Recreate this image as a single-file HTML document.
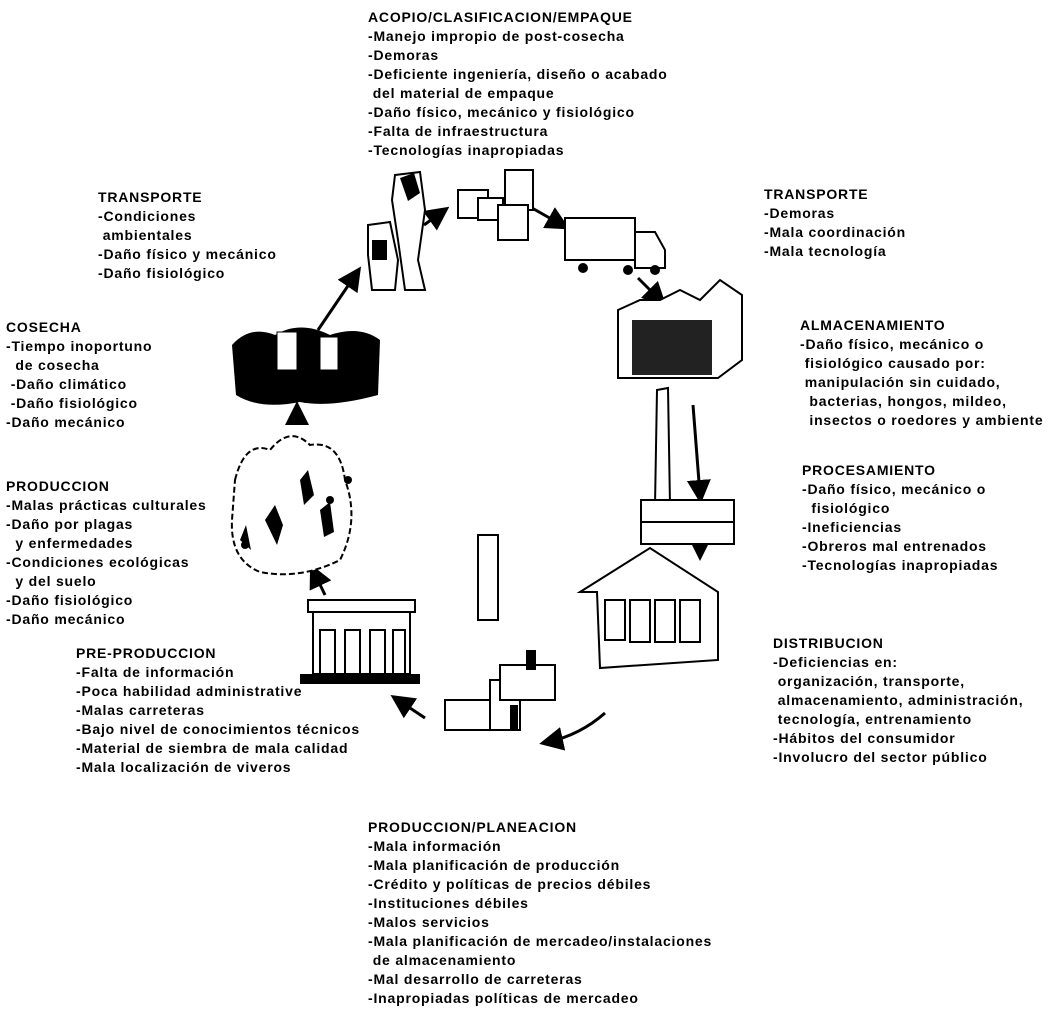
<!DOCTYPE html>
<html><head><meta charset="utf-8"><style>
html,body{margin:0;padding:0;background:#fff;}
body{width:1059px;height:1016px;position:relative;overflow:hidden;font-family:"Liberation Sans",sans-serif;color:#000;}
.t{position:absolute;font-size:14px;font-weight:bold;line-height:19px;white-space:pre;letter-spacing:0.8px;}
svg{position:absolute;left:0;top:0;}
</style></head><body>
<svg width="1059" height="1016" viewBox="0 0 1059 1016">
<defs><marker id="a" markerWidth="8" markerHeight="8" refX="5" refY="4" orient="auto"><path d="M0,0 L8,4 L0,8 z" fill="#000"/></marker></defs>
<g stroke="#000" stroke-width="3" fill="none" marker-end="url(#a)">
<line x1="318" y1="330" x2="356" y2="274"/>
<line x1="297" y1="425" x2="297" y2="410"/>
<line x1="325" y1="595" x2="314" y2="572"/>
<line x1="425" y1="718" x2="398" y2="700"/>
<path d="M605,713 Q580,735 548,742"/>
<line x1="700" y1="528" x2="700" y2="552"/>
<line x1="693" y1="405" x2="700" y2="495"/>
<line x1="638" y1="278" x2="660" y2="300"/>
<line x1="532" y1="208" x2="562" y2="225"/>
<line x1="424" y1="225" x2="442" y2="212"/>
</g>
<path d="M232,345 Q250,325 275,335 Q300,320 330,335 Q360,325 380,340 L378,395 Q330,408 300,402 Q260,410 236,395 Z" fill="#000"/>
<rect x="277" y="332" width="20" height="38" fill="#fff" stroke="#000"/>
<rect x="320" y="337" width="18" height="33" fill="#fff" stroke="#000"/>
<g stroke="#000" stroke-width="2" fill="#fff">
<path d="M395,175 L420,172 L425,210 L418,260 L425,290 L405,290 L398,240 L392,200 Z"/>
<path d="M368,225 L390,222 L398,260 L395,290 L372,290 L368,255 Z"/>
<rect x="458" y="190" width="30" height="28"/><rect x="478" y="198" width="25" height="22"/>
<rect x="505" y="170" width="28" height="40"/><rect x="498" y="205" width="30" height="35"/>
<rect x="565" y="218" width="70" height="42"/>
<path d="M635,232 L655,232 L665,250 L665,268 L635,268 Z"/>
<path d="M618,310 L618,378 L718,378 L742,360 L742,295 L720,280 L700,300 L680,290 L660,300 L640,300 Z"/>
<path d="M657,390 L668,388 L670,505 L655,505 Z"/>
<rect x="641" y="500" width="93" height="22"/><rect x="641" y="522" width="93" height="22"/>
<path d="M580,592 L650,548 L718,592 L718,660 L600,668 L597,592 Z"/>
<rect x="605" y="600" width="20" height="40"/><rect x="630" y="600" width="20" height="42"/><rect x="655" y="600" width="20" height="42"/><rect x="680" y="600" width="20" height="42"/>
<rect x="478" y="535" width="20" height="85"/><rect x="490" y="680" width="30" height="50"/>
<rect x="445" y="700" width="45" height="30"/><rect x="500" y="665" width="55" height="35"/>
<rect x="308" y="600" width="107" height="12"/>
<rect x="313" y="612" width="97" height="62"/>
<path d="M235,480 Q245,440 270,450 Q290,425 310,445 Q340,440 345,480 Q360,520 340,560 Q300,580 260,572 Q230,560 232,520 Z" stroke-dasharray="6,3"/>
</g>
<g fill="#000">
<rect x="300" y="674" width="120" height="10"/>
<path d="M320,630 h15 v44 h-15z M345,630 h15 v44 h-15z M370,630 h15 v44 h-15z M393,630 h12 v44 h-12z" fill="#fff" stroke="#000" stroke-width="2"/>
<rect x="632" y="320" width="80" height="55" fill="#222"/>
<circle cx="583" cy="268" r="5"/><circle cx="628" cy="270" r="5"/><circle cx="655" cy="270" r="5"/>
<circle cx="245" cy="545" r="4"/><circle cx="330" cy="500" r="4"/><circle cx="348" cy="480" r="4"/>
<path d="M265,520 l10,-15 l8,20 l-6,20z M300,480 l8,-10 l6,25 l-10,10z M240,540 l6,-15 l5,25z M320,510 l10,-8 l4,30 l-10,5z"/>
<rect x="510" y="705" width="8" height="25"/><rect x="526" y="650" width="10" height="20"/>
<path d="M400,178 l14,-5 l6,20 l-12,8z M372,240 l15,0 l0,20 l-15,0z"/>
</g>
</svg>
<div class="t" style="left:368px;top:8px">ACOPIO/CLASIFICACION/EMPAQUE
-Manejo impropio de post-cosecha
-Demoras
-Deficiente ingeniería, diseño o acabado
 del material de empaque
-Daño físico, mecánico y fisiológico
-Falta de infraestructura
-Tecnologías inapropiadas</div>
<div class="t" style="left:98px;top:188px">TRANSPORTE
-Condiciones
 ambientales
-Daño físico y mecánico
-Daño fisiológico</div>
<div class="t" style="left:764px;top:185px">TRANSPORTE
-Demoras
-Mala coordinación
-Mala tecnología</div>
<div class="t" style="left:800px;top:316px">ALMACENAMIENTO
-Daño físico, mecánico o
 fisiológico causado por:
 manipulación sin cuidado,
  bacterias, hongos, mildeo,
  insectos o roedores y ambiente</div>
<div class="t" style="left:802px;top:461px">PROCESAMIENTO
-Daño físico, mecánico o
  fisiológico
-Ineficiencias
-Obreros mal entrenados
-Tecnologías inapropiadas</div>
<div class="t" style="left:773px;top:634px">DISTRIBUCION
-Deficiencias en:
 organización, transporte,
 almacenamiento, administración,
 tecnología, entrenamiento
-Hábitos del consumidor
-Involucro del sector público</div>
<div class="t" style="left:6px;top:318px">COSECHA
-Tiempo inoportuno
  de cosecha
 -Daño climático
 -Daño fisiológico
-Daño mecánico</div>
<div class="t" style="left:6px;top:477px">PRODUCCION
-Malas prácticas culturales
-Daño por plagas
  y enfermedades
-Condiciones ecológicas
  y del suelo
-Daño fisiológico
-Daño mecánico</div>
<div class="t" style="left:76px;top:644px">PRE-PRODUCCION
-Falta de información
-Poca habilidad administrative
-Malas carreteras
-Bajo nivel de conocimientos técnicos
-Material de siembra de mala calidad
-Mala localización de viveros</div>
<div class="t" style="left:368px;top:818px">PRODUCCION/PLANEACION
-Mala información
-Mala planificación de producción
-Crédito y políticas de precios débiles
-Instituciones débiles
-Malos servicios
-Mala planificación de mercadeo/instalaciones
 de almacenamiento
-Mal desarrollo de carreteras
-Inapropiadas políticas de mercadeo</div>
</body></html>
